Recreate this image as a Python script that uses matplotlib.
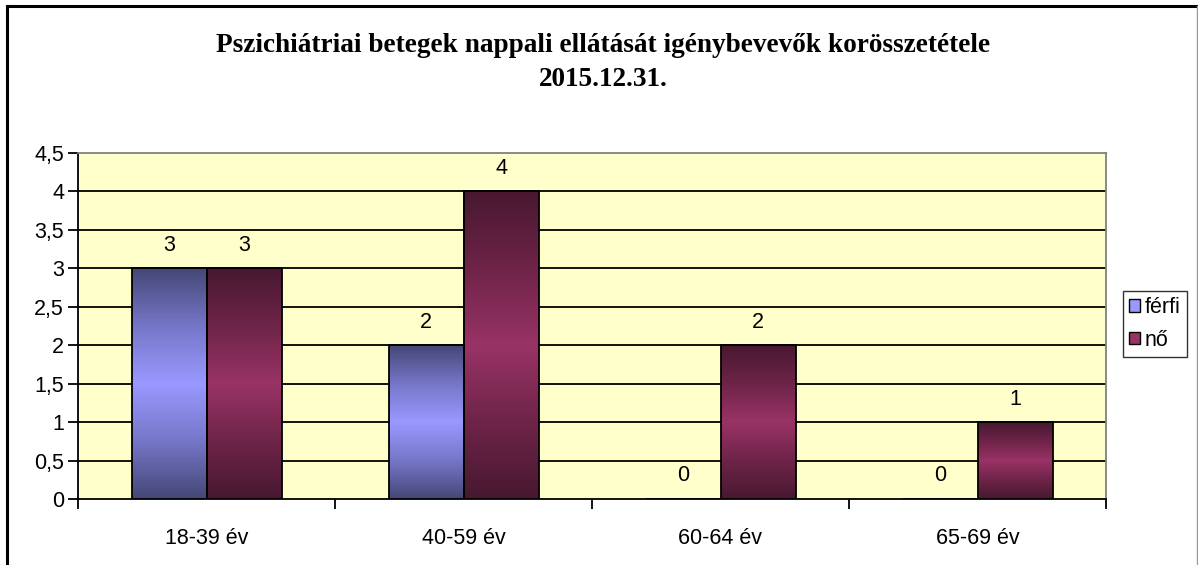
import matplotlib
matplotlib.use('Agg')
import matplotlib.pyplot as plt
import numpy as np
from matplotlib.colors import LinearSegmentedColormap

# Data
categories = ['18-39 év', '40-59 év', '60-64 év', '65-69 év']
ferfi = [3, 2, 0, 0]
no = [3, 4, 2, 1]
series_names = ['férfi', 'nő']
title_lines = ['Pszichiátriai betegek nappali ellátását igénybevevők korösszetétele', '2015.12.31.']

W, H = 1198, 565
FS = 15.5
fig = plt.figure(figsize=(W / 100, H / 100), dpi=100)

# outer chart border (top/left black, right grey)
fig.add_artist(plt.Line2D([7 / W, 7 / W], [0, 1 - 6 / H], color='black', lw=2.2))
fig.add_artist(plt.Line2D([7 / W, 1197 / W], [1 - 6 / H, 1 - 6 / H], color='black', lw=2.2))
fig.add_artist(plt.Line2D([1196.5 / W, 1196.5 / W], [0, 1 - 6 / H], color='#999999', lw=1))

# plot area: x 78..1106, y 153..499
ax = fig.add_axes([78 / W, 1 - 499 / H, (1106 - 78) / W, (499 - 153) / H])
ax.set_facecolor('#FFFFCC')

x = np.arange(len(categories))
bw = 75 / 257

blue_cm = LinearSegmentedColormap.from_list('b', ['#454776', '#7676C8', '#9999FF', '#7676C8', '#454776'])
red_cm = LinearSegmentedColormap.from_list('r', ['#481830', '#6E2448', '#993366', '#6E2448', '#481830'])
grad = np.linspace(0, 1, 256).reshape(-1, 1)

for vals, cm, off in [(ferfi, blue_cm, -bw / 2), (no, red_cm, bw / 2)]:
    ax.bar(x + off, vals, bw, facecolor='none', edgecolor='black', lw=1.3, zorder=4)
    for xi, v in zip(x + off, vals):
        if v > 0:
            ax.imshow(grad, cmap=cm, aspect='auto', zorder=3,
                      extent=[xi - bw / 2, xi + bw / 2, 0, v], interpolation='bicubic')
        ax.text(xi, v + 0.3, str(v), ha='center', va='center',
                fontsize=FS, family='Liberation Sans', zorder=5)

ax.set_xlim(-0.5, len(categories) - 0.5)
ax.set_ylim(0, 4.5)
yt = np.arange(0, 4.51, 0.5)
ax.set_yticks(yt)
ax.set_yticklabels([('%g' % t).replace('.', ',') for t in yt], family='Liberation Sans', fontsize=FS)
for t in yt[1:-1]:
    ax.axhline(t, color='black', lw=1.3, zorder=1)

ax.set_xticks(x)
ax.set_xticklabels(categories, family='Liberation Sans', fontsize=FS)
ax.set_xticks(np.arange(-0.5, len(categories), 1), minor=True)
ax.tick_params(axis='x', which='major', length=0, pad=21)
ax.tick_params(axis='x', which='minor', length=7, width=1.3, direction='out')
ax.tick_params(axis='y', length=7, width=1.3, pad=3)

for s in ['top', 'right']:
    ax.spines[s].set_color('#808080')
    ax.spines[s].set_linewidth(1.3)
for s in ['left', 'bottom']:
    ax.spines[s].set_linewidth(1.3)

for yy, line in zip([45, 80], title_lines):
    fig.text(0.5035, 1 - yy / H, line, ha='center', va='center', fontsize=19.6,
             fontweight='bold', family='Liberation Serif')

handles = [plt.Rectangle((0, 0), 1, 1, facecolor='#9999FF', edgecolor='black'),
           plt.Rectangle((0, 0), 1, 1, facecolor='#993366', edgecolor='black')]
leg = fig.legend(handles, series_names, loc='center left', bbox_to_anchor=(1123 / W, 1 - 324 / H),
                 prop={'family': 'Liberation Sans', 'size': FS}, frameon=True, fancybox=False,
                 handlelength=0.5, handleheight=0.5, handletextpad=0.2, borderpad=0.3,
                 labelspacing=0.55, borderaxespad=0)
leg.get_frame().set_edgecolor('black')
leg.get_frame().set_linewidth(1)

fig.savefig('out.png', dpi=100)
